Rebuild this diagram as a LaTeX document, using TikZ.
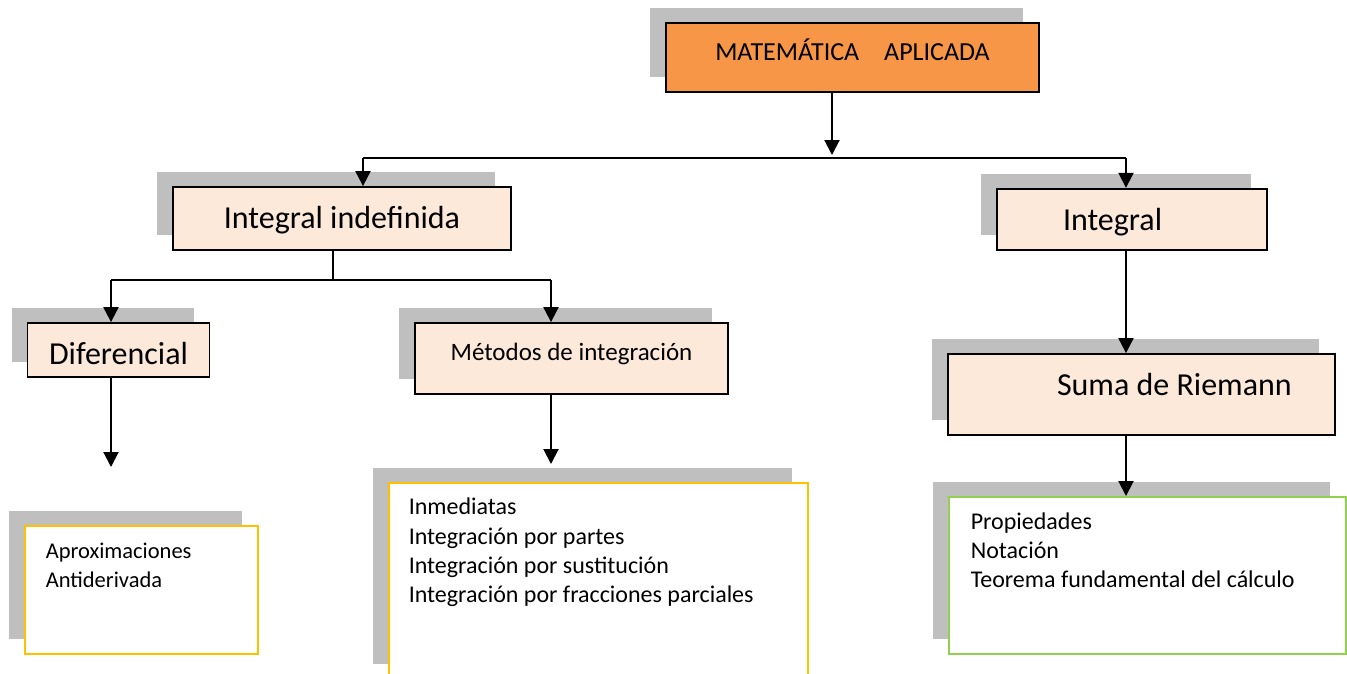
\documentclass[tikz,border=0pt]{standalone}
\usepackage{fontspec}
\setmainfont{Carlito}
\usetikzlibrary{arrows.meta,shadows}
\definecolor{naranja}{HTML}{F79646}
\definecolor{durazno}{HTML}{FDE9D9}
\definecolor{sombra}{HTML}{BFBFBF}
\definecolor{amarillo}{HTML}{FFC000}
\definecolor{verde}{HTML}{92D050}
\tikzset{
  caja/.style={draw=black, line width=1.8pt, fill=durazno, inner sep=0pt, anchor=base,
    drop shadow={shadow xshift=-16pt, shadow yshift=15pt, opacity=1, fill=sombra}},
  lista/.style={caja, fill=white, line width=1.5pt, anchor=north west, align=flush left,
    font=\fontsize{24}{29.3}\selectfont},
  grande/.style={font=\fontsize{32}{38}\selectfont},
  flecha/.style={line width=2pt, -{Triangle[length=15pt,width=15pt]}},
  rama/.style={line width=1.5pt}
}
\begin{document}
\begin{tikzpicture}[x=1pt,y=-1pt]
\useasboundingbox (0,0) rectangle (1347,673);
    \node[caja, fill=naranja, minimum width=373pt, text height=37pt, text depth=32pt,
      font=\fontsize{26}{31}\selectfont] (mat) at (852.5,60) {MATEMÁTICA\hspace{25pt}APLICADA};
    \node[caja, grande, minimum width=338pt, text height=41pt, text depth=22pt] (indef) at (342,228) {Integral indefinida};
    \node[caja, grande, text width=270pt, align=flush left, text height=42pt, text depth=19pt] (integ) at (1132,230.7) {\hspace*{66pt}Integral};
    \node[caja, grande, minimum width=182pt, text height=41pt, text depth=13pt] (dif) at (118.5,364) {Diferencial};
    \node[caja, minimum width=313pt, text height=37pt, text depth=34pt,
      font=\fontsize{25}{30}\selectfont] (met) at (571.5,360) {Métodos de integración};
    \node[caja, grande, text width=387pt, align=flush left, text height=41pt, text depth=40pt] (suma) at (1141.5,395) {\hspace*{109pt}Suma de Riemann};
    \node[lista, draw=amarillo, inner xsep=21pt, text width=191pt, text height=33pt, text depth=95pt,
      font=\fontsize{22.5}{29}\selectfont] (aprox) at (24,525) {Aproximaciones\\Antiderivada};
    \node[lista, draw=amarillo, inner xsep=20pt, text width=379pt, text height=32pt, text depth=164pt] (tecnicas) at (388,482)
      {Inmediatas\\Integración por partes\\Integración por sustitución\\Integración por fracciones parciales};
    \node[lista, draw=verde, inner xsep=22pt, text width=353pt, text height=33pt, text depth=124pt,
      font=\fontsize{24}{29}\selectfont] (prop) at (948,496) {Propiedades\\Notación\\Teorema fundamental del cálculo};
    \coordinate (c0) at (832,155);
    \coordinate (c1) at (363,158);
    \coordinate (c2) at (1126,158);
    \coordinate (c3) at (333,280);
    \coordinate (c4) at (111,280);
    \coordinate (c5) at (551,280);
    \coordinate (c6) at (111,467);
    \coordinate (c7) at (551,464);
    \draw[flecha] (mat.south -| c0) -- (c0);
    \draw[line width=2.4pt] (c1) -- (c2);
    \draw[flecha] (c1) -- (indef.north -| c1);
    \draw[flecha] (c2) -- (integ.north -| c2);
    \draw[rama] (indef.south -| c3) -- (c3);
    \draw[rama] (c4) -- (c5);
    \draw[flecha] (c4) -- (dif.north -| c4);
    \draw[flecha] (c5) -- (met.north -| c5);
    \draw[flecha] (dif.south -| c6) -- (c6);
    \draw[flecha] (met.south -| c7) -- (c7);
    \draw[flecha] (integ.south -| c2) -- (suma.north -| c2);
    \draw[flecha] (suma.south -| c2) -- (prop.north -| c2);
\end{tikzpicture}
\end{document}
